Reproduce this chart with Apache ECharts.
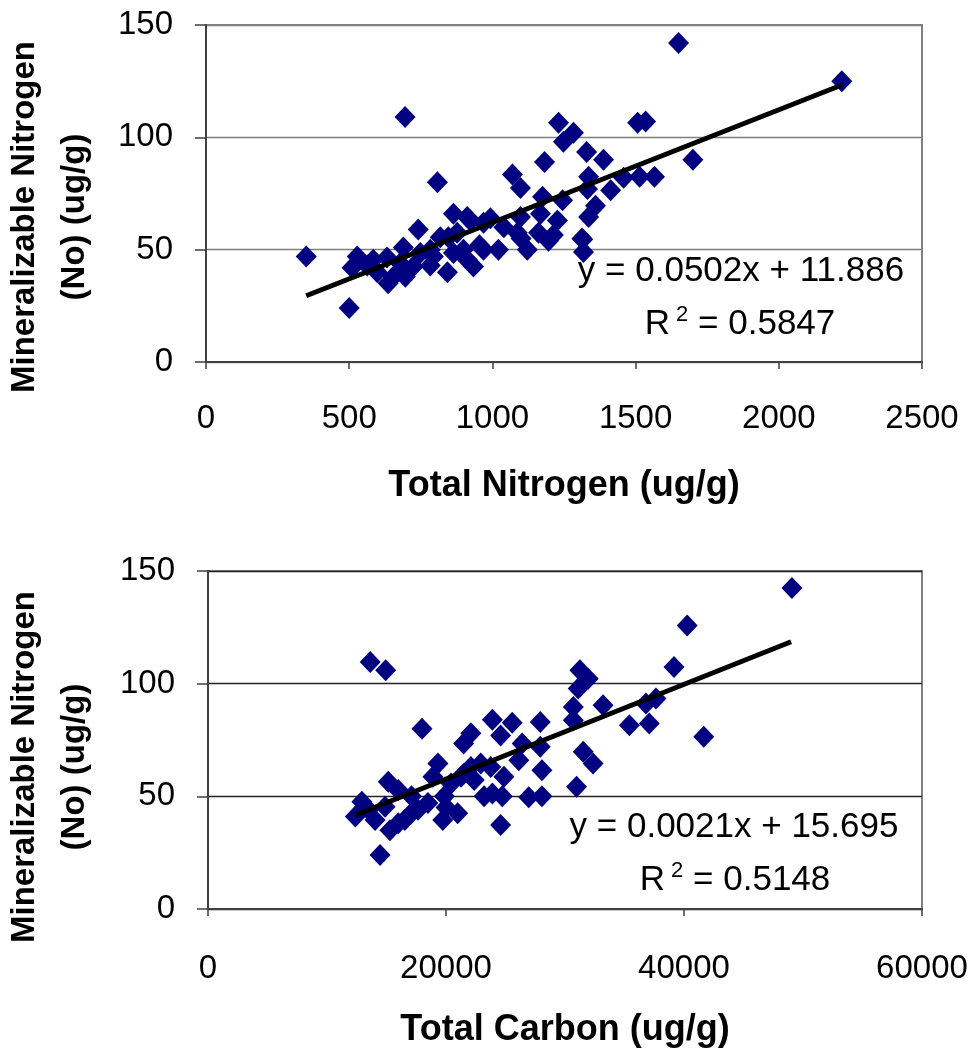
<!DOCTYPE html>
<html>
<head>
<meta charset="utf-8">
<script src="https://cdn.jsdelivr.net/npm/echarts@6/dist/echarts.min.js"></script>
<style>
  html,body{margin:0;padding:0;background:#fff;}
  #chart{width:979px;height:1049px;}
</style>
</head>
<body>
<div id="chart"></div>
<script>
// top panel: total nitrogen vs mineralizable N
var totalNitrogen = [350,500,695,808,1650,2220,1700,1507,1535,1566,1514,1458,1413,1388,1329,1336,1332,1360,1336,1313,1318,1283,1231,1248,1182,1070,1098,1175,1245,1168,1227,1213,1161,1087,1122,1021,969,1098,993,969,912,864,741,689,528,510,584,632,636,696,678,783,783,843,846,899,934,912,955,598,654,794,818,877,923,864,748,724,563,1196,1315,1100,1040];
var minN_top = [47,24,109,80,142,125,90,106.5,107,82.5,82.5,82,76.5,90,93.5,82.5,77,69.5,64.5,55,49,102,106.5,98,89,83.5,77.5,73.5,72,66,63,56.5,57.5,57.5,50,50,50,64.5,64,62,64.5,66,59,51,47,42,45.5,46.5,35,38,44,43,50,40,55.5,50,42.5,45.5,52,40,38,47,55.5,57.5,63,48.5,48.5,42.5,43,54,54.5,55,60];
// bottom panel: total carbon vs mineralizable N
var totalCarbon = [13630,14930,17985,22090,21480,23900,25560,24590,27920,26400,27920,26120,28060,26950,28060,24590,23900,24730,24870,23760,22920,22090,22370,21260,19320,18900,20980,19730,19870,18480,16540,17100,15990,15150,15290,14460,14040,12930,12380,13490,14880,15990,17650,23200,20430,49070,40270,39160,31250,31950,31110,30700,30700,33200,35410,37080,37640,36800,41660,31530,32360,30970,20000,21500,17000];
var minN_bottom = [109.6,106,80,78,73.5,84,82.6,77,83,73.5,72,66,61.6,49.6,50,37.3,51.3,50,58.7,63,64.6,63,57.2,58.7,64.6,58.7,42.5,39.5,50,47,39.5,50,52.8,56.5,35,24,39.5,47.6,41,44,45.4,38,44,50,55.7,142.5,125.8,107.4,106,102.2,97.8,89.7,83.8,90.4,81.5,82.3,93.4,91.2,76.4,69.8,64.6,54.3,45,60,42];
// trend line end points
var trendTop = [[350,29.5],[2220,123.3]];
var trendBottom = [[12400,41.7],[49000,118.6]];
var yTicks = [0,50,100,150];

var FONT = "'Liberation Sans', Arial, sans-serif";

function zipPoints(xs, ys){
    var out = [];
    for (var i=0;i<xs.length;i++){
        out.push([xs[i], ys[i]]);
    }
    return out;
}
// plain numbers, no thousands separator
function plain(v){ return String(v); }

function xAxisCfg(idx, max, step, name, gap, margin){
    return {
        type:'value', gridIndex: idx, min:0, max:max, interval:step,
        name:name, nameLocation:'middle', nameGap:gap,
        nameTextStyle:{fontFamily:FONT, fontWeight:'bold', fontSize:36, color:'#000'},
        axisLine:{show:true, onZero:false, lineStyle:{color:'#404040', width:2}},
        axisTick:{show:true, length:7, lineStyle:{color:'#404040', width:1.5}},
        axisLabel:{margin:margin, fontFamily:FONT, fontSize:33, color:'#000', formatter:plain},
        splitLine:{show:false}
    };
}
function yAxisCfg(idx, gridColor){
    return {
        type:'value', gridIndex: idx, min:yTicks[0], max:yTicks[yTicks.length-1], interval:50,
        axisLine:{show:true, lineStyle:{color:'#404040', width:2}},
        axisTick:{show:true, length:11, lineStyle:{color:'#404040', width:1.5}},
        axisLabel:{margin:33, fontFamily:FONT, fontSize:33, color:'#000', formatter:plain},
        splitLine:{show:true, lineStyle:{color:gridColor, width:1.3}}
    };
}
function eqText(x, y, txt){
    return {type:'text', x:x, y:y, style:{text:txt, fontFamily:FONT, fontSize:35, fill:'#000', align:'center', verticalAlign:'middle'}};
}
function r2Text(x, y, val){
    return {type:'text', x:x, y:y, style:{
        text:'{a|R}{s| 2}{a| = '+val+'}', align:'center', verticalAlign:'middle',
        rich:{
            a:{fontFamily:FONT, fontSize:35, fill:'#000', lineHeight:40},
            s:{fontFamily:FONT, fontSize:22, fill:'#000', lineHeight:40, verticalAlign:'top'}
        }
    }};
}
function yTitle(x, y){
    return {type:'text', x:x, y:y, rotation:Math.PI/2, style:{
        text:'Mineralizable Nitrogen\n(No) (ug/g)', fontFamily:FONT, fontWeight:'bold', fontSize:33,
        lineHeight:50, fill:'#000', align:'center', verticalAlign:'middle'
    }};
}

var chart = echarts.init(document.getElementById('chart'));
var option = {
    backgroundColor:'#fff',
    animation:false,
    grid:[
        {left:206, top:25, width:716, height:337, show:true, borderColor:'#808080', borderWidth:2},
        {left:208, top:571, width:714, height:340, show:true, borderColor:'#808080', borderWidth:2}
    ],
    xAxis:[
        xAxisCfg(0, 2500, 500, 'Total Nitrogen (ug/g)', 106, 40),
        xAxisCfg(1, 60000, 20000, 'Total Carbon (ug/g)', 103, 43)
    ],
    yAxis:[ yAxisCfg(0, '#808080'), yAxisCfg(1, '#222') ],
    series:[
        {type:'scatter', xAxisIndex:0, yAxisIndex:0, symbol:'diamond', symbolSize:[21,22],
            itemStyle:{color:'#000080', opacity:1}, data:zipPoints(totalNitrogen, minN_top)},
        {type:'line', xAxisIndex:0, yAxisIndex:0, showSymbol:false, symbol:'none',
            lineStyle:{color:'#000', width:5}, data:trendTop, z:3},
        {type:'scatter', xAxisIndex:1, yAxisIndex:1, symbol:'diamond', symbolSize:[21,22],
            itemStyle:{color:'#000080', opacity:1}, data:zipPoints(totalCarbon, minN_bottom)},
        {type:'line', xAxisIndex:1, yAxisIndex:1, showSymbol:false, symbol:'none',
            lineStyle:{color:'#000', width:5}, data:trendBottom, z:3}
    ],
    graphic:[
        yTitle(50, 217),
        yTitle(50, 767),
        eqText(741, 271, 'y = 0.0502x + 11.886'),
        r2Text(740, 324, '0.5847'),
        eqText(734, 827, 'y = 0.0021x + 15.695'),
        r2Text(735, 880, '0.5148')
    ]
};
chart.setOption(option);
</script>
</body>
</html>
